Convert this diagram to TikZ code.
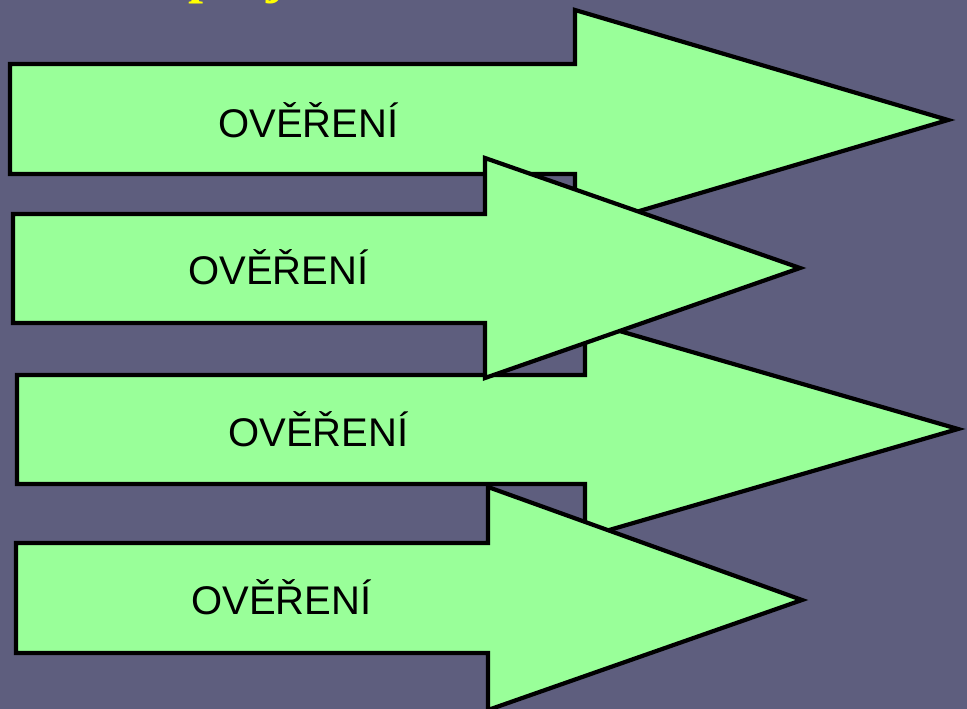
\documentclass[tikz,border=0pt]{standalone}
\usepackage{fontspec}
\setmainfont{Liberation Sans}
\newfontfamily\titleserif{Liberation Serif}
\definecolor{bgc}{RGB}{94,94,126}
\definecolor{arrowgreen}{RGB}{153,255,153}
\definecolor{titleyellow}{RGB}{255,255,0}
\begin{document}
\begin{tikzpicture}[x=1pt,y=-1pt,
  arrowshape/.style={fill=arrowgreen,draw=black,line width=4.2pt,line join=miter},
  arrowlabel/.style={anchor=base west,inner sep=0pt,font=\fontsize{40}{48}\selectfont},
  titletext/.style={anchor=base west,inner sep=0pt,text=titleyellow,font=\titleserif\bfseries\fontsize{54}{60}\selectfont}]
\fill[bgc] (0,0) rectangle (967,709);
\useasboundingbox (0,0) rectangle (967,709);
\begin{scope}
\clip (0,0) rectangle (967,709);
\node[titletext] (tp) at (188,-7) {p};
\node[titletext] (tj) at (266,-7) {j};
% arrow 1
\draw[arrowshape] (10,64) -- (575,64) -- (575,10) -- (948,120) -- (575,230) -- (575,174) -- (10,174) -- cycle;
\coordinate (a1tip) at (948,120);
% arrow 3
\draw[arrowshape] (17,375) -- (585,375) -- (585,321) -- (958,429) -- (585,537) -- (585,484) -- (17,484) -- cycle;
\coordinate (a3tip) at (958,429);
% arrow 2
\draw[arrowshape] (13,214) -- (485,214) -- (485,158) -- (800,268) -- (485,378) -- (485,323) -- (13,323) -- cycle;
\coordinate (a2tip) at (800,268);
% arrow 4
\draw[arrowshape] (16,543) -- (488,543) -- (488,487) -- (802,600) -- (488,710) -- (488,653) -- (16,653) -- cycle;
\coordinate (a4tip) at (802,600);
\end{scope}
\node[arrowlabel] (l1) at (218,137) {OVĚŘENÍ};
\node[arrowlabel] (l2) at (188,284) {OVĚŘENÍ};
\node[arrowlabel] (l3) at (228,446) {OVĚŘENÍ};
\node[arrowlabel] (l4) at (191,614) {OVĚŘENÍ};
\end{tikzpicture}
\end{document}
